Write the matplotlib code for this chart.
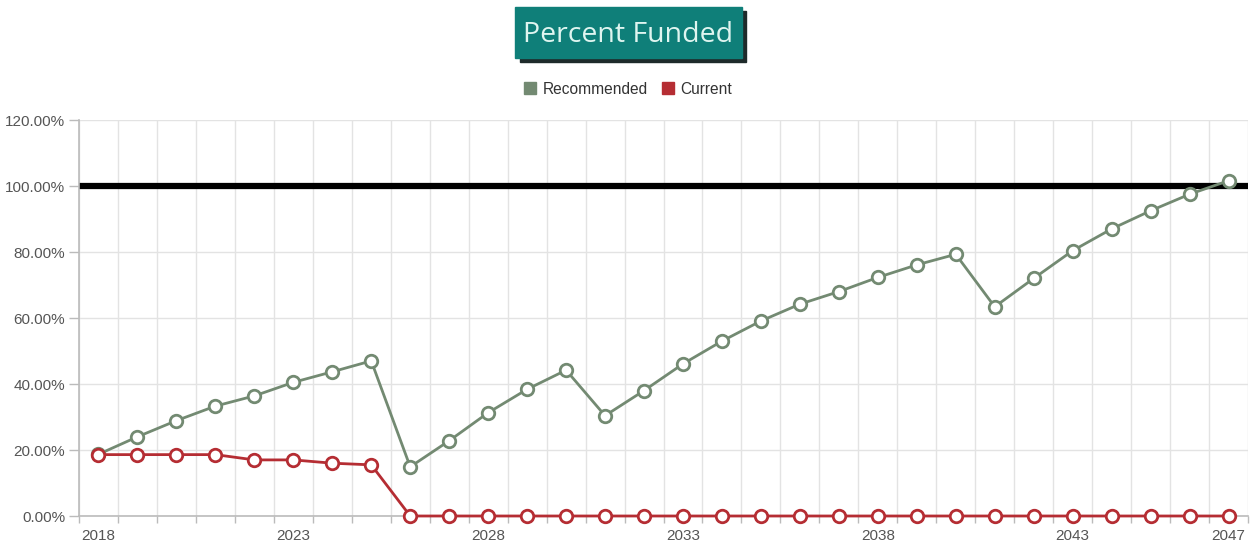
import matplotlib
matplotlib.use("Agg")
import matplotlib.pyplot as plt
from matplotlib.patches import Rectangle
from matplotlib.lines import Line2D
from matplotlib.ticker import FixedLocator, FuncFormatter

years = list(range(2018, 2048))
recommended = [18.7, 24.0, 28.9, 33.3, 36.4, 40.5, 43.7, 47.0, 14.9, 22.8,
               31.3, 38.4, 44.2, 30.4, 38.0, 46.1, 53.0, 59.1, 64.2, 68.0,
               72.3, 76.1, 79.3, 63.4, 72.0, 80.4, 87.0, 92.5, 97.5, 101.6]
current = [18.6, 18.6, 18.6, 18.6, 17.0, 17.0, 16.0, 15.5] + [0.0] * 22
target = 100.0
label_years = [2018, 2023, 2028, 2033, 2038, 2043, 2047]

green = "#738a72"
red = "#b52d33"
W, H = 1256, 546

plt.rcParams['font.family'] = ['Liberation Sans', 'DejaVu Sans']
fig = plt.figure(figsize=(W / 100, H / 100), dpi=100)
ax = fig.add_axes([79 / W, 1 - 516 / H, (1248 - 79) / W, (516 - 120) / H])

x = list(range(len(years)))
ax.set_xlim(-0.5, len(years) - 0.5)
ax.set_ylim(0, 120)

# gridlines between categories, like a category axis
bounds = [i - 0.5 for i in range(len(years) + 1)]
ax.xaxis.set_minor_locator(FixedLocator(bounds))
ax.xaxis.set_major_locator(FixedLocator([years.index(y) for y in label_years]))
ax.set_xticklabels([str(y) for y in label_years])
ax.tick_params(axis='x', which='major', length=0, pad=9, labelsize=11, labelcolor="#555555")
ax.tick_params(axis='x', which='minor', length=5, color="#bbbbbb", width=1)
ax.grid(True, which='minor', axis='x', color="#e3e3e3", lw=1)

ax.yaxis.set_major_locator(FixedLocator([0, 20, 40, 60, 80, 100, 120]))
ax.yaxis.set_major_formatter(FuncFormatter(lambda v, p: f"{v:.2f}%"))
ax.tick_params(axis='y', length=7, color="#bbbbbb", width=1, labelsize=11,
               labelcolor="#555555", pad=3)
ax.grid(True, which='major', axis='y', color="#e3e3e3", lw=1)
ax.set_axisbelow(True)

for s in ['top', 'right']:
    ax.spines[s].set_visible(False)
for s in ['left', 'bottom']:
    ax.spines[s].set_color("#bbbbbb")
    ax.spines[s].set_linewidth(1.2)

ax.axhline(target, color="black", lw=4.5, zorder=2)

ax.plot(x, recommended, color=green, lw=2, marker='o', ms=9,
        mfc='white', mec=green, mew=2, zorder=4, clip_on=False)
ax.plot(x, current, color=red, lw=2, marker='o', ms=9,
        mfc='white', mec=red, mew=2, zorder=5, clip_on=False)

# title box with drop shadow
fig.patches.append(Rectangle((520 / W, 1 - 62 / H), 226 / W, 51 / H,
                             transform=fig.transFigure, color="#1e2a2a", zorder=1))
fig.patches.append(Rectangle((515 / W, 1 - 58 / H), 227 / W, 51 / H,
                             transform=fig.transFigure, color="#0f7f79", zorder=2))
fig.text(628.5 / W, 1 - 35 / H, "Percent Funded", ha='center', va='center',
         fontsize=20.5, color="#dff5f0", family=['Open Sans', 'DejaVu Sans'], zorder=3)

handles = [Line2D([], [], ls='none', marker='s', ms=8, color=green),
           Line2D([], [], ls='none', marker='s', ms=8, color=red)]
fig.legend(handles, ["Recommended", "Current"], loc='center',
           bbox_to_anchor=(628 / W, 1 - 89 / H), ncol=2, frameon=False,
           fontsize=11.2, handlelength=0.8, handletextpad=0.4, columnspacing=0.9,
           labelcolor="#333333")

fig.savefig("out.png", dpi=100, facecolor='white')
